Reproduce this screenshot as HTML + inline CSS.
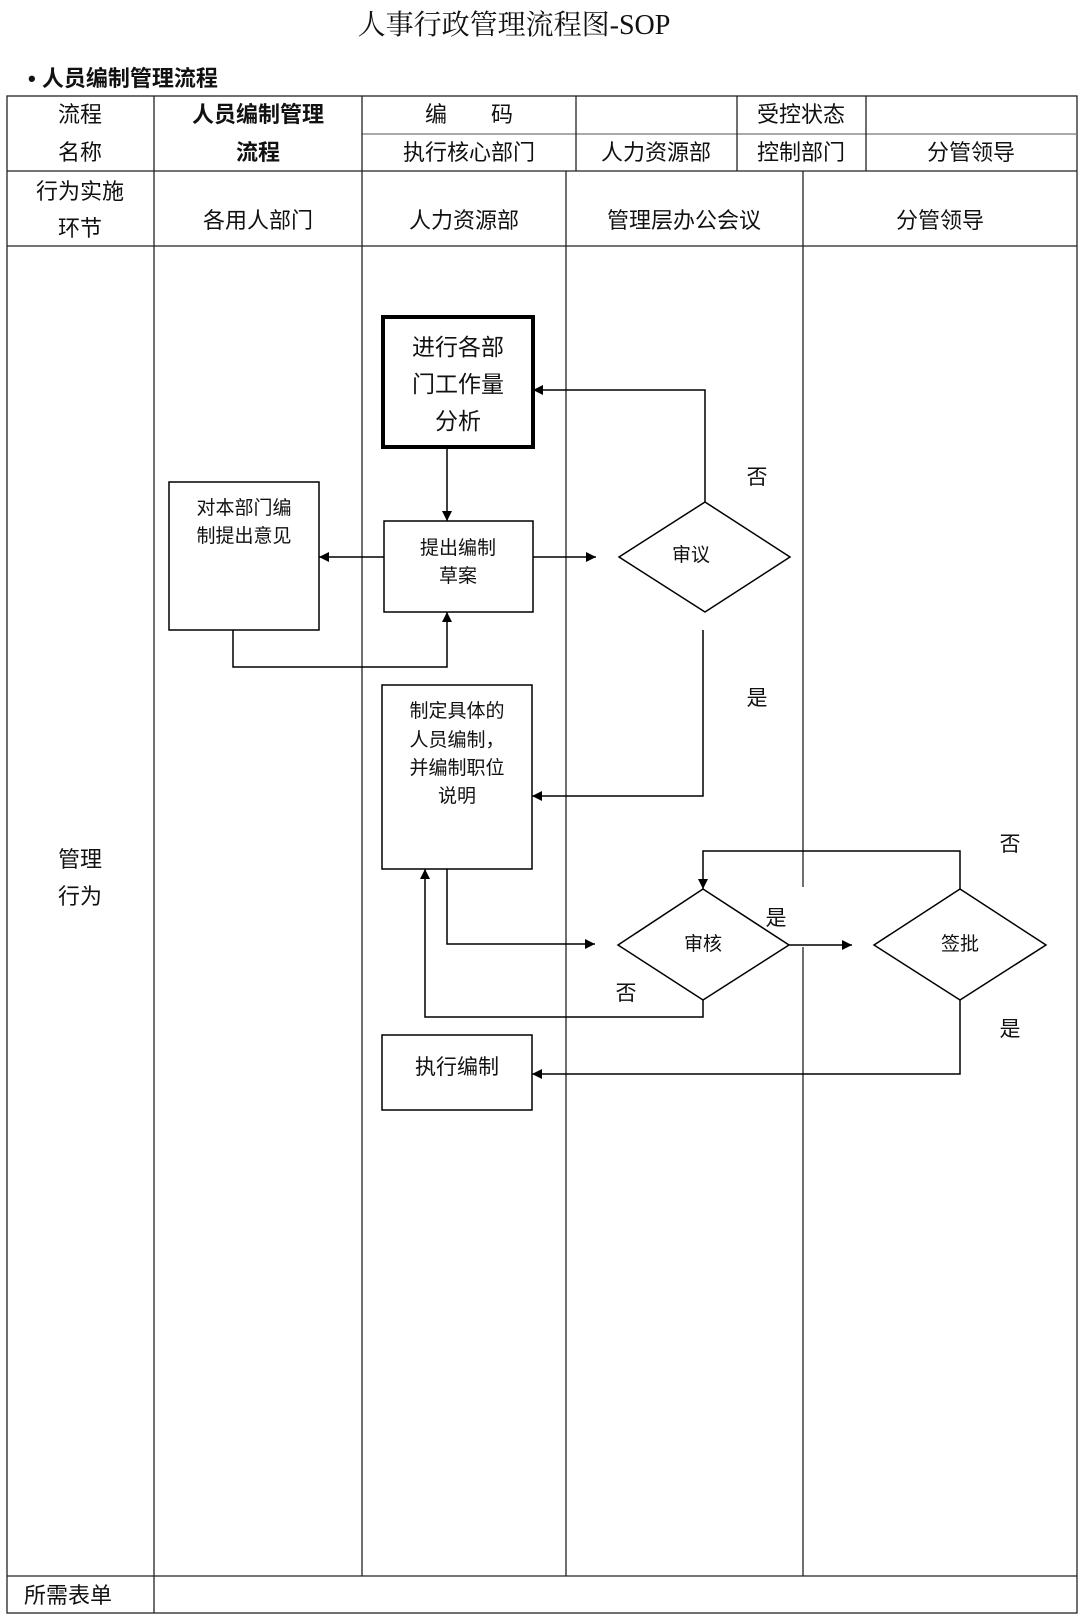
<!DOCTYPE html>
<html><head><meta charset="utf-8"><style>
html,body{margin:0;padding:0;background:#fff;}
svg{display:block;}
text{font-family:"Liberation Sans","Noto Sans CJK SC",sans-serif;fill:#111;}
.t{font-family:"Liberation Serif","Noto Serif CJK SC",serif;}
</style></head><body>
<svg width="1080" height="1622" viewBox="0 0 1080 1622" xmlns="http://www.w3.org/2000/svg">
<defs>
<marker id="a" viewBox="0 0 10 10" refX="10" refY="5" markerWidth="10" markerHeight="10" markerUnits="userSpaceOnUse" orient="auto"><path d="M0,0 L10,5 L0,10 z" fill="#000"/></marker>
</defs>
<text class="t" x="514" y="34" font-size="28" text-anchor="middle">人事行政管理流程图-SOP</text>
<text x="28" y="86" font-size="22" font-weight="bold">• 人员编制管理流程</text>

<g stroke="#222" stroke-width="1.3" fill="none">
<rect x="7" y="96" width="1070" height="1517"/>
<line x1="7" y1="171" x2="1077" y2="171"/>
<line x1="7" y1="246" x2="1077" y2="246"/>
<line x1="7" y1="1576" x2="1077" y2="1576"/>
<line x1="362" y1="134" x2="1077" y2="134" stroke="#777"/>
<line x1="154" y1="96" x2="154" y2="1613"/>
<line x1="362" y1="96" x2="362" y2="1576"/>
<line x1="576" y1="96" x2="576" y2="171"/>
<line x1="737" y1="96" x2="737" y2="171"/>
<line x1="866" y1="96" x2="866" y2="171"/>
<line x1="566" y1="171" x2="566" y2="1576"/>
<line x1="803" y1="171" x2="803" y2="887"/>
<line x1="803" y1="947" x2="803" y2="1576"/>
</g>

<g font-size="22" text-anchor="middle">
<text x="80" y="122">流程</text><text x="80" y="160">名称</text>
<text x="258" y="122" font-weight="bold">人员编制管理</text><text x="258" y="160" font-weight="bold">流程</text>
<text x="469" y="122">编　　码</text>
<text x="801" y="122">受控状态</text>
<text x="469" y="160">执行核心部门</text>
<text x="656" y="160">人力资源部</text>
<text x="801" y="160">控制部门</text>
<text x="971" y="160">分管领导</text>
<text x="80" y="199">行为实施</text><text x="80" y="236">环节</text>
<text x="258" y="228">各用人部门</text>
<text x="464" y="228">人力资源部</text>
<text x="684" y="228">管理层办公会议</text>
<text x="940" y="228">分管领导</text>
<text x="80" y="867">管理</text><text x="80" y="904">行为</text>
<text x="68" y="1603">所需表单</text>
</g>

<g stroke="#000" stroke-width="1.5" fill="#fff">
<rect x="383" y="317" width="150" height="130" stroke-width="4"/>
<rect x="169" y="482" width="150" height="148"/>
<rect x="384" y="521" width="149" height="91"/>
<rect x="382" y="685" width="150" height="184"/>
<rect x="382" y="1035" width="150" height="75"/>
<polygon points="705,502 790,557 705,612 619,557"/>
<polygon points="703,889 789,945 703,1000 618,945"/>
<polygon points="960,889 1046,945 960,1000 874,945"/>
</g>

<g stroke="#000" stroke-width="1.5" fill="none">
<line x1="447" y1="447" x2="447" y2="521" marker-end="url(#a)"/>
<polyline points="705,502 705,390 533,390" marker-end="url(#a)"/>
<line x1="384" y1="557" x2="319" y2="557" marker-end="url(#a)"/>
<line x1="533" y1="557" x2="596" y2="557" marker-end="url(#a)"/>
<polyline points="233,630 233,667 447,667 447,612" marker-end="url(#a)"/>
<polyline points="703,630 703,796 532,796" marker-end="url(#a)"/>
<polyline points="447,869 447,944 595,944" marker-end="url(#a)"/>
<line x1="789" y1="945" x2="852" y2="945" marker-end="url(#a)"/>
<polyline points="960,889 960,851 703,851 703,889" marker-end="url(#a)"/>
<polyline points="703,1000 703,1017 425,1017 425,869" marker-end="url(#a)"/>
<polyline points="960,1000 960,1074 532,1074" marker-end="url(#a)"/>
</g>

<g text-anchor="middle">
<g font-size="23"><text x="458" y="355">进行各部</text><text x="458" y="392">门工作量</text><text x="458" y="429">分析</text></g>
<g font-size="19"><text x="244" y="514">对本部门编</text><text x="244" y="542">制提出意见</text>
<text x="458" y="554">提出编制</text><text x="458" y="582">草案</text>
<text x="457" y="717">制定具体的</text><text x="457" y="746">人员编制，</text><text x="457" y="774">并编制职位</text><text x="457" y="802">说明</text>
<text x="691" y="561">审议</text>
<text x="703" y="950">审核</text>
<text x="960" y="950">签批</text></g>
<text x="457" y="1074" font-size="21">执行编制</text>
<g font-size="21"><text x="757" y="484">否</text><text x="757" y="705">是</text>
<text x="1010" y="851">否</text><text x="776" y="925">是</text>
<text x="626" y="1000">否</text><text x="1010" y="1036">是</text></g>
</g>
</svg>
</body></html>
